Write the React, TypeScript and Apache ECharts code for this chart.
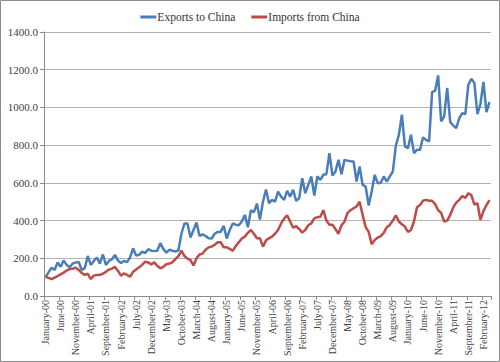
import React, { useEffect, useRef } from "react";
import * as echarts from "echarts";

const monthNames = ["January", "February", "March", "April", "May", "June", "July", "August", "September", "October", "November", "December"];
const startYear = 2000;
const monthCount = 148;

const exportsToChina = [
  100, 125, 150, 138, 178, 155, 188, 165, 152, 172, 178, 180, 138, 148, 212, 165, 186, 204, 172, 220,
  165, 186, 195, 218, 188, 175, 186, 180, 205, 253, 215, 218, 235, 228, 248, 240, 238, 240, 280, 250,
  230, 245, 240, 236, 242, 330, 385, 385, 310, 350, 390, 318, 327, 318, 306, 305, 330, 340, 340, 372,
  305, 350, 385, 378, 375, 395, 430, 365, 455, 445, 490, 405, 500, 565, 492, 510, 500, 554, 527, 510,
  558, 527, 563, 504, 519, 625, 545, 589, 634, 533, 634, 616, 643, 646, 757, 639, 660, 722, 646, 722,
  718, 715, 713, 607, 687, 589, 580, 480, 554, 642, 598, 600, 634, 607, 634, 660, 798, 855, 961, 793,
  784, 855, 758, 775, 775, 841, 828, 820, 1081, 1089, 1170, 926, 952, 1103, 922, 904, 890, 943, 970, 965,
  1120, 1152, 1129, 965, 1018, 1135, 975, 1028,
];

const importsFromChina = [
  101, 96, 90, 98, 106, 115, 124, 135, 143, 145, 150, 138, 122, 112, 118, 90, 108, 112, 112, 118,
  128, 140, 145, 154, 133, 108, 120, 112, 102, 128, 140, 152, 165, 182, 178, 168, 178, 160, 147, 155,
  168, 172, 178, 195, 212, 240, 212, 198, 190, 162, 200, 220, 225, 245, 258, 262, 272, 285, 285, 258,
  258, 250, 240, 265, 285, 305, 315, 335, 350, 330, 306, 306, 262, 295, 306, 315, 330, 350, 385, 410,
  428, 395, 362, 370, 355, 336, 350, 375, 385, 412, 418, 420, 455, 400, 378, 378, 355, 330, 375, 395,
  440, 455, 465, 475, 500, 430, 365, 340, 275, 297, 310, 318, 335, 365, 377, 400, 428, 395, 380, 368,
  340, 350, 395, 470, 482, 505, 510, 505, 505, 487, 455, 440, 395, 400, 430, 470, 495, 510, 530, 520,
  545, 535, 485, 492, 404, 450, 482, 508,
];

const categories: string[] = [];
for (let i = 0; i < monthCount; i++) {
  const m = i % 12;
  const y = startYear + Math.floor(i / 12);
  categories.push(monthNames[m] + "-" + String(y % 100).padStart(2, "0"));
}

const FONT = "'Liberation Serif', 'DejaVu Serif', serif";

export default function App() {
  const ref = useRef<HTMLDivElement>(null);
  useEffect(() => {
    document.body.style.margin = "0";
    if (!ref.current) return;
    const chart = echarts.init(ref.current, undefined, { renderer: "svg" });
    chart.setOption({
      animation: false,
      backgroundColor: "#ffffff",
      graphic: [
        {
          type: "rect",
          shape: { x: 0.5, y: 0.5, width: 499, height: 361 },
          style: { fill: "none", stroke: "#8c8c8c", lineWidth: 1 },
          silent: true,
        },
      ],
      legend: {
        top: 6,
        left: "center",
        icon: "rect",
        itemWidth: 16,
        itemHeight: 3,
        itemGap: 16,
        textStyle: { fontFamily: FONT, fontSize: 11.5, color: "#333", padding: [0, 0, 0, -4] },
        data: ["Exports to China", "Imports from China"],
      },
      grid: { left: 44, right: 9, top: 32, bottom: 66, containLabel: false },
      xAxis: {
        type: "category",
        data: categories,
        boundaryGap: true,
        axisLine: { lineStyle: { color: "#8c8c8c", width: 1 } },
        axisTick: { show: true, interval: 4, length: 4, lineStyle: { color: "#8c8c8c" } },
        axisLabel: {
          interval: 4,
          rotate: 90,
          fontFamily: FONT,
          fontSize: 10,
          color: "#404040",
          margin: 4,
        },
        splitLine: { show: false },
      },
      yAxis: {
        type: "value",
        min: 0,
        max: 1400,
        interval: 200,
        axisLine: { show: true, lineStyle: { color: "#8c8c8c", width: 1 } },
        axisTick: { show: true, length: 4, lineStyle: { color: "#8c8c8c" } },
        axisLabel: {
          fontFamily: FONT,
          fontSize: 11,
          color: "#404040",
          margin: 6,
          formatter: (v: number) => v.toFixed(1),
        },
        splitLine: { show: true, lineStyle: { color: "#b3b3b3", width: 1 } },
      },
      series: [
        {
          name: "Exports to China",
          type: "line",
          data: exportsToChina,
          symbol: "none",
          lineStyle: { color: "#4a7ebb", width: 2.5 },
          itemStyle: { color: "#4a7ebb" },
        },
        {
          name: "Imports from China",
          type: "line",
          data: importsFromChina,
          symbol: "none",
          lineStyle: { color: "#be4b48", width: 2.5 },
          itemStyle: { color: "#be4b48" },
        },
      ],
    });
    return () => chart.dispose();
  }, []);
  return <div ref={ref} style={{ width: 500, height: 362 }} />;
}
